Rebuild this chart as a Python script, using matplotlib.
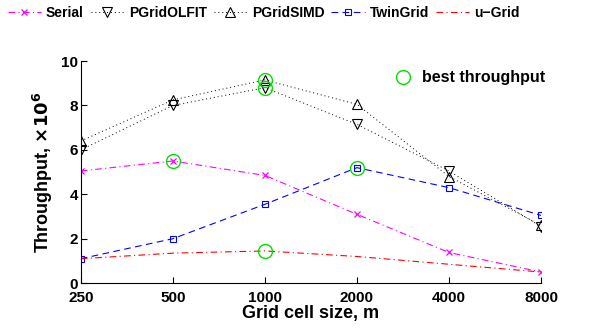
import matplotlib
matplotlib.use("Agg")
import matplotlib.pyplot as plt
from matplotlib.lines import Line2D

plt.rcParams.update({"font.family": ["Liberation Sans", "DejaVu Sans"],
                     "font.weight": "bold", "font.size": 10})

cell_size = [250, 500, 1000, 2000, 4000, 8000]
serial = [5.05, 5.5, 4.85, 3.1, 1.38, 0.5]
olfit = [6.0, 8.0, 8.8, 7.15, 5.05, 2.55]
simd = [6.4, 8.25, 9.15, 8.05, 4.8, 2.6]
twingrid = [1.1, 2.0, 3.55, 5.2, 4.3, 3.05]
ugrid = [1.1, 1.35, 1.45, 1.2, 0.85, 0.5]

best_x = [500, 1000, 1000, 2000, 1000]
best_y = [5.5, 9.15, 8.8, 5.2, 1.45]

GREEN = "#00e000"

fig = plt.figure(figsize=(6.12, 3.3), dpi=100)
ax = fig.add_axes([0.132, 0.142, 0.752, 0.673])

h1, = ax.plot(cell_size, serial, color="magenta", ls=(0, (6, 3, 1, 3)), lw=0.8,
              marker="x", ms=4.5, mew=0.9, label="Serial")
h2, = ax.plot(cell_size, olfit, color="black", ls=(0, (1, 3)), lw=0.7,
              marker="v", ms=7, mfc="none", mew=0.8, label="PGridOLFIT")
h3, = ax.plot(cell_size, simd, color="black", ls=(0, (1, 3)), lw=0.7,
              marker="^", ms=7, mfc="none", mew=0.8, label="PGridSIMD")
h4, = ax.plot(cell_size, twingrid, color="blue", ls=(0, (6, 4)), lw=0.8,
              marker="s", ms=5, mfc="none", mew=0.8, label="TwinGrid")
h5, = ax.plot(cell_size, ugrid, color="red", ls=(0, (6, 3, 1, 3)), lw=0.8,
              label="u\u2212Grid")
ax.plot(best_x, best_y, ls="none", marker="o", ms=10, mfc="none",
        mec=GREEN, mew=1.0)

ax.set_xscale("log", base=2)
ax.set_xlim(250, 8000)
ax.set_ylim(0, 10)
ax.set_xticks(cell_size)
ax.set_xticklabels([str(c) for c in cell_size])
ax.minorticks_off()
ax.set_yticks([0, 2, 4, 6, 8, 10])
ax.tick_params(direction="in", length=4, width=0.8, labelsize=11, pad=2)
ax.tick_params(axis="x", pad=6)
for lab in ax.get_xticklabels() + ax.get_yticklabels():
    lab.set_fontweight("bold")
ax.spines["top"].set_visible(False)
ax.spines["right"].set_visible(False)
ax.set_xlabel("Grid cell size, m", fontsize=13, fontweight="bold", labelpad=0)
ax.set_ylabel(r"Throughput, $\times 10^6$", fontsize=13, fontweight="bold",
              labelpad=4)

fig.legend(handles=[h1, h2, h3, h4, h5], loc="center left",
           bbox_to_anchor=(0.01, 0.96), ncol=5, frameon=False, fontsize=10,
           handlelength=2.4, columnspacing=0.5, handletextpad=0.35,
           borderaxespad=0, borderpad=0.1)
best = Line2D([], [], ls="none", marker="o", ms=10, mfc="none",
              mec=GREEN, mew=1.0)
ax.legend([best], ["best throughput"], loc="center left",
          bbox_to_anchor=(0.68, 0.925), frameon=False, fontsize=11.5,
          handletextpad=0.6, handlelength=1.2, borderpad=0, borderaxespad=0)

fig.savefig("out.png", dpi=100, facecolor="white")
